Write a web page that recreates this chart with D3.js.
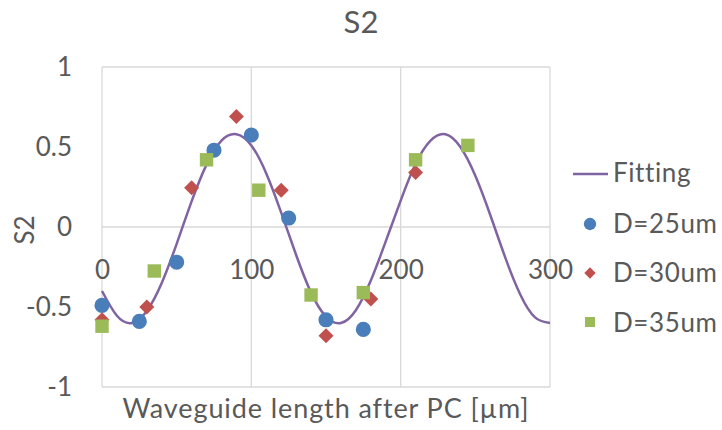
<!DOCTYPE html>
<html>
<head>
<meta charset="utf-8">
<script src="https://cdn.jsdelivr.net/npm/d3@7"></script>
<style>
  html, body { margin: 0; padding: 0; background: #ffffff; }
  svg text { font-family: Lato, "Open Sans", sans-serif; fill: #595959; }
</style>
</head>
<body>
<svg id="chart" width="722" height="430"></svg>
<script>
// Fitted curve, sampled along the waveguide length
const fitX = [0, 10, 20, 30, 40, 50, 60, 70, 80, 90, 100, 110, 120, 130, 140, 150,
              160, 170, 180, 190, 200, 210, 220, 230, 240, 250, 260, 270, 280, 290, 300];
const fitY = [-0.40, -0.555, -0.60, -0.525, -0.35, -0.105, 0.16, 0.39, 0.54, 0.58, 0.51,
              0.335, 0.09, -0.175, -0.41, -0.56, -0.60, -0.52, -0.335, -0.09, 0.165, 0.395,
              0.54, 0.58, 0.50, 0.32, 0.075, -0.19, -0.42, -0.565, -0.60];

// Measured S2 for each PC diameter
const d25X = [0, 25, 50, 75, 100, 125, 150, 175];
const d25Y = [-0.49, -0.59, -0.22, 0.48, 0.575, 0.056, -0.58, -0.64];
const d30X = [0, 30, 60, 90, 120, 150, 180, 210];
const d30Y = [-0.58, -0.50, 0.245, 0.69, 0.23, -0.68, -0.45, 0.34];
const d35X = [0, 35, 70, 105, 140, 175, 210, 245];
const d35Y = [-0.62, -0.275, 0.42, 0.23, -0.425, -0.41, 0.42, 0.51];

const xTicks = [0, 100, 200, 300];
const yTicks = [-1, -0.5, 0, 0.5, 1];
const yGrid = [-1, 0, 1];
const seriesNames = ["Fitting", "D=25um", "D=30um", "D=35um"];

const zip = (xs, ys) => xs.map((v, i) => ({ x: v, y: ys[i] }));

const svg = d3.select("#chart");
svg.append("rect").attr("width", 722).attr("height", 430).attr("fill", "#ffffff");

const x = d3.scaleLinear().domain([0, 300]).range([102, 550]);
const y = d3.scaleLinear().domain([-1, 1]).range([387, 67]);

const gridColor = "#d9d9d9";

// Vertical gridlines
svg.append("g")
  .selectAll("line").data(xTicks).join("line")
  .attr("x1", d => x(d)).attr("x2", d => x(d))
  .attr("y1", y(1)).attr("y2", y(-1))
  .attr("stroke", gridColor).attr("stroke-width", 1.3);

// Horizontal gridlines
svg.append("g")
  .selectAll("line").data(yGrid).join("line")
  .attr("x1", x(0)).attr("x2", x(300))
  .attr("y1", d => y(d)).attr("y2", d => y(d))
  .attr("stroke", gridColor).attr("stroke-width", 1.3);

// Y axis labels
const yAxis = svg.append("g")
  .attr("transform", `translate(${x(0)},0)`)
  .call(d3.axisLeft(y).tickValues(yTicks).tickSize(0).tickPadding(30)
        .tickFormat(d => String(d)));
yAxis.select(".domain").remove();
yAxis.selectAll("text")
  .style("font-family", "Lato, 'Open Sans', sans-serif")
  .style("font-size", "26px").attr("fill", "#595959");

// X axis labels (axis crosses at S2 = 0, labels sit below it)
const xAxis = svg.append("g")
  .attr("transform", `translate(0,${y(0)})`)
  .call(d3.axisBottom(x).tickValues(xTicks).tickSize(0).tickFormat(d => String(d)));
xAxis.select(".domain").remove();
xAxis.selectAll("text")
  .attr("y", 52).attr("dy", 0)
  .style("font-family", "Lato, 'Open Sans', sans-serif")
  .style("font-size", "26px").attr("fill", "#595959");

// Fitting curve
const line = d3.line().x(d => x(d.x)).y(d => y(d.y)).curve(d3.curveNatural);
svg.append("path")
  .datum(zip(fitX, fitY))
  .attr("d", line)
  .attr("fill", "none")
  .attr("stroke", "#8064a2")
  .attr("stroke-width", 2.5);

// Marker series
const circleSym = d3.symbol().type(d3.symbolCircle);
const squareSym = d3.symbol().type(d3.symbolSquare);

svg.append("g").selectAll("path").data(zip(d25X, d25Y)).join("path")
  .attr("d", circleSym.size(180)())
  .attr("transform", d => `translate(${x(d.x)},${y(d.y)})`)
  .attr("fill", "#4a7ebb");

svg.append("g").selectAll("path").data(zip(d30X, d30Y)).join("path")
  .attr("d", squareSym.size(112)())
  .attr("transform", d => `translate(${x(d.x)},${y(d.y)}) rotate(45)`)
  .attr("fill", "#c0504d");

svg.append("g").selectAll("path").data(zip(d35X, d35Y)).join("path")
  .attr("d", squareSym.size(180)())
  .attr("transform", d => `translate(${x(d.x)},${y(d.y)})`)
  .attr("fill", "#9bbb59");

// Titles
svg.append("text")
  .attr("x", 361).attr("y", 33)
  .attr("text-anchor", "middle")
  .style("font-size", "31px")
  .text("S2");

svg.append("text")
  .attr("transform", "translate(34,230) rotate(-90)")
  .attr("text-anchor", "middle")
  .style("font-size", "26px")
  .text("S2");

svg.append("text")
  .attr("x", 326).attr("y", 418)
  .attr("text-anchor", "middle")
  .style("font-size", "27px")
  .style("letter-spacing", "0.9px")
  .text("Waveguide length after PC [µm]");

// Legend
const legend = svg.append("g");
legend.append("line")
  .attr("x1", 573).attr("x2", 608).attr("y1", 174).attr("y2", 174)
  .attr("stroke", "#8064a2").attr("stroke-width", 2.5);
legend.append("path")
  .attr("d", d3.symbol().type(d3.symbolCircle).size(120)())
  .attr("transform", "translate(590,224)").attr("fill", "#4a7ebb");
legend.append("path")
  .attr("d", d3.symbol().type(d3.symbolSquare).size(64)())
  .attr("transform", "translate(590,273) rotate(45)").attr("fill", "#c0504d");
legend.append("path")
  .attr("d", d3.symbol().type(d3.symbolSquare).size(100)())
  .attr("transform", "translate(590,322)").attr("fill", "#9bbb59");

const legendBaselines = [182, 233, 282, 332];
legend.selectAll("text.lbl").data(seriesNames).join("text")
  .attr("class", "lbl")
  .attr("x", 613).attr("y", (d, i) => legendBaselines[i])
  .style("font-size", "26px")
  .style("letter-spacing", "0.6px")
  .text(d => d);
</script>
</body>
</html>
